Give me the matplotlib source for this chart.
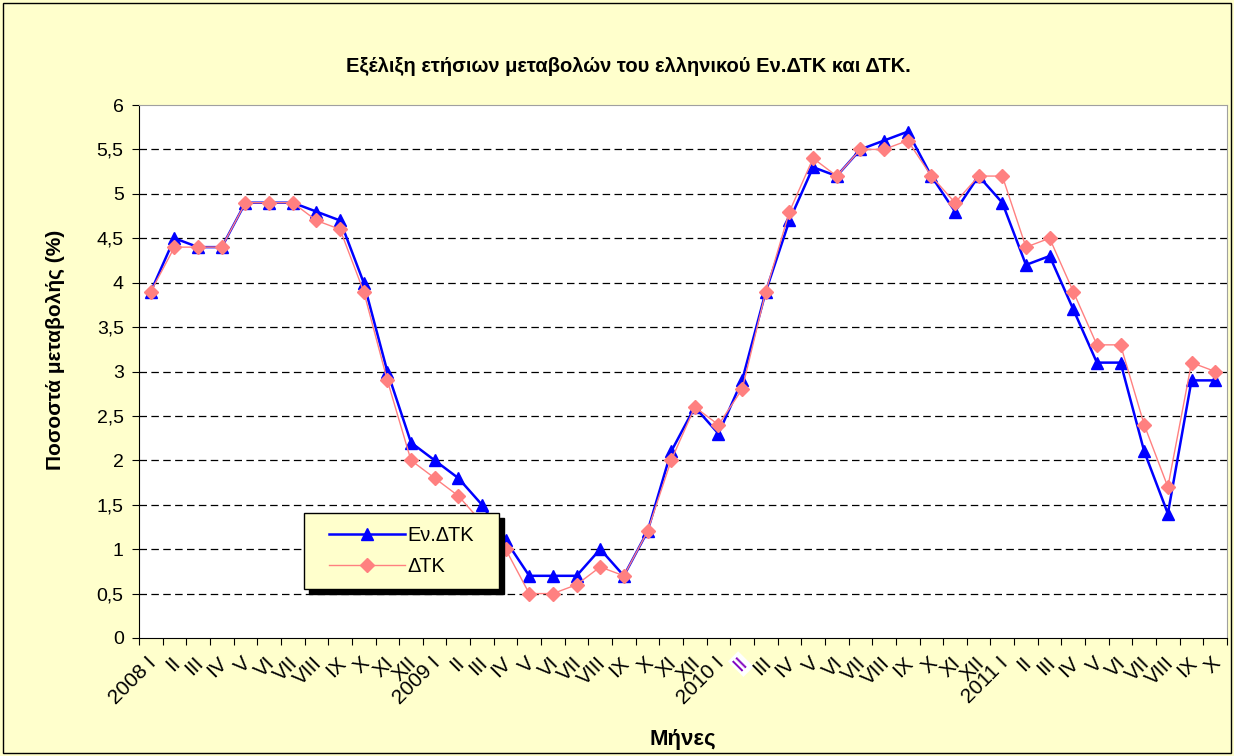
import matplotlib.pyplot as plt
import matplotlib.patches as mpatches
import matplotlib.transforms as mtransforms
import numpy as np

plt.rcParams['font.family'] = ['Liberation Sans', 'DejaVu Sans']

# monthly labels 2008 I .. 2011 X
roman = ['I', 'II', 'III', 'IV', 'V', 'VI', 'VII', 'VIII', 'IX', 'X', 'XI', 'XII']
years = [2008, 2009, 2010, 2011]
months = []
for y in years:
    for i, r in enumerate(roman):
        if y == 2011 and i > 9:
            break
        months.append(str(y) + ' ' + r if i == 0 else r)

ev_dtk = [3.9, 4.5, 4.4, 4.4, 4.9, 4.9, 4.9, 4.8, 4.7, 4.0, 3.0, 2.2,
          2.0, 1.8, 1.5, 1.1, 0.7, 0.7, 0.7, 1.0, 0.7, 1.2, 2.1, 2.6,
          2.3, 2.9, 3.9, 4.7, 5.3, 5.2, 5.5, 5.6, 5.7, 5.2, 4.8, 5.2,
          4.9, 4.2, 4.3, 3.7, 3.1, 3.1, 2.1, 1.4, 2.9, 2.9]
dtk = [3.9, 4.4, 4.4, 4.4, 4.9, 4.9, 4.9, 4.7, 4.6, 3.9, 2.9, 2.0,
       1.8, 1.6, 1.3, 1.0, 0.5, 0.5, 0.6, 0.8, 0.7, 1.2, 2.0, 2.6,
       2.4, 2.8, 3.9, 4.8, 5.4, 5.2, 5.5, 5.5, 5.6, 5.2, 4.9, 5.2,
       5.2, 4.4, 4.5, 3.9, 3.3, 3.3, 2.4, 1.7, 3.1, 3.0]

yticks = np.arange(0, 6.01, 0.5)
ytick_labels = [('%g' % v).replace('.', ',') for v in yticks]

W, H = 1234, 756
fig = plt.figure(figsize=(W / 100, H / 100), dpi=100)
fig.patch.set_facecolor('#FFFFCC')
fig.patches.append(mpatches.Rectangle((3 / W, 3 / H), 1228 / W, 750 / H, transform=fig.transFigure,
                                      fill=False, edgecolor='black', lw=1))

ax = fig.add_axes([139 / W, (H - 638) / H, (1227 - 139) / W, (638 - 105) / H])
ax.set_facecolor('white')
x = np.arange(len(months))

ax.plot(x, ev_dtk, color='#0000FF', lw=1.8, marker='^', markersize=8, label='Εν.ΔΤΚ', zorder=3)
ax.plot(x, dtk, color='#FF8080', lw=1.0, marker='D', markersize=7, label='ΔΤΚ', zorder=4)

ax.set_xlim(-0.5, len(months) - 0.5)
ax.set_ylim(0, 6)
ax.set_yticks(yticks)
ax.set_yticklabels(ytick_labels, fontsize=14)
for v in yticks[1:-1]:
    ax.axhline(v, color='black', lw=0.9, ls=(0, (6, 3.5)), zorder=1)

ax.set_xticks(np.arange(-0.5, len(months), 1.0))
ax.set_xticklabels([])
ax.set_xticks(x, minor=True)
ax.set_xticklabels(months, minor=True, rotation=45, ha='right', va='top',
                   rotation_mode='anchor', fontsize=15)
ax.tick_params(axis='x', which='minor', length=0, pad=11)
ax.tick_params(axis='x', which='major', length=5, direction='out')
ax.tick_params(axis='y', length=5, direction='out', pad=6)
shift = mtransforms.ScaledTranslation(-4 / 100, 0, fig.dpi_scale_trans)
for lbl in ax.get_xticklabels(minor=True):
    lbl.set_transform(lbl.get_transform() + shift)
# 2010 II label appears highlighted in the reference
hl = ax.get_xticklabels(minor=True)[25]
hl.set_color('#8000C0')
hl.set_bbox(dict(facecolor='white', edgecolor='none', pad=1))

for s in ['top', 'right']:
    ax.spines[s].set_color('#A0A0A0')
for s in ['left', 'bottom']:
    ax.spines[s].set_color('black')

fig.text(628 / W, (H - 67) / H, 'Εξέλιξη ετήσιων μεταβολών του ελληνικού Εν.ΔΤΚ και ΔΤΚ.',
         ha='center', va='center', fontsize=14.5, fontweight='bold')
fig.text(55 / W, (H - 350) / H, 'Ποσοστά μεταβολής (%)', rotation=90, ha='center', va='center',
         fontsize=15, fontweight='bold')
fig.text(683 / W, (H - 739) / H, 'Μήνες', ha='center', va='center', fontsize=16, fontweight='bold')

# legend: box and hard shadow drawn separately, entries centred in it
lx0, ly0, lx1, ly1 = 304, 513, 499, 589
shadow = mpatches.Rectangle(((lx0 + 5) / W, (H - ly1 - 5) / H), (lx1 - lx0) / W, (ly1 - ly0) / H,
                            transform=fig.transFigure, facecolor='black', edgecolor='black', zorder=8)
box = mpatches.Rectangle((lx0 / W, (H - ly1) / H), (lx1 - lx0) / W, (ly1 - ly0) / H,
                         transform=fig.transFigure, facecolor='#FFFFCC', edgecolor='black', lw=1, zorder=9)
for p in (shadow, box):
    p.set_clip_on(False)
    ax.add_artist(p)
leg = ax.legend(loc='center', bbox_to_anchor=((lx0 + lx1) / 2 / W, (H - (ly0 + ly1) / 2) / H),
                bbox_transform=fig.transFigure, fontsize=14.4, frameon=False,
                handlelength=3.8, handletextpad=0.1, labelspacing=0.6, borderpad=0)
leg.set_zorder(10)

fig.savefig('out.png', dpi=100, facecolor=fig.get_facecolor())
